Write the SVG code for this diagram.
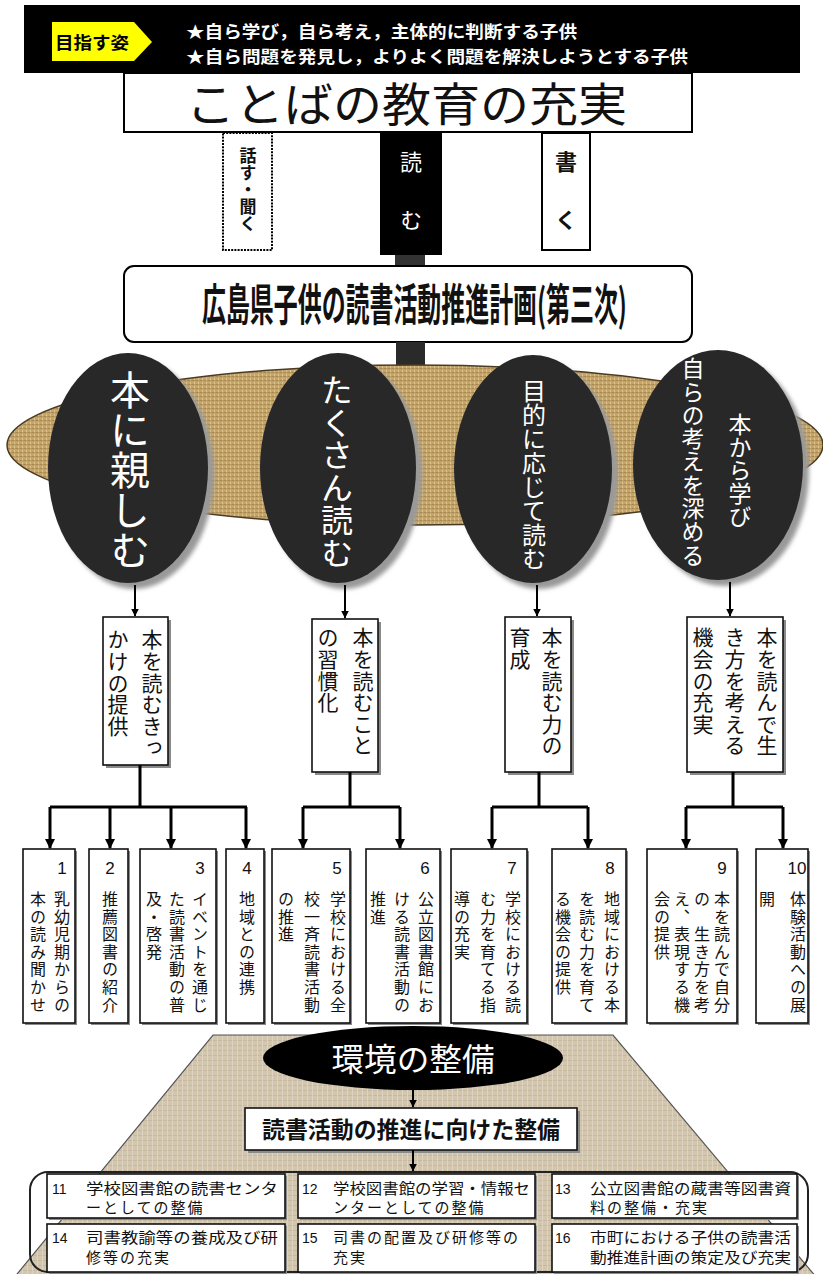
<svg xmlns="http://www.w3.org/2000/svg" width="823" height="1274" viewBox="0 0 823 1274">
<defs>
<style>
text{font-family:"Noto Sans CJK JP","Noto Sans",sans-serif;}
.v{writing-mode:vertical-rl;}
.num{font-family:"Liberation Sans",Arial,sans-serif;font-size:17px;text-anchor:middle;fill:#111;}
.bnum{font-family:"Liberation Sans",Arial,sans-serif;font-size:14px;fill:#111;}
.box{fill:#fff;stroke:#111;stroke-width:1.6;}
.shd{fill:#8a8a8a;}
.tree{stroke:#000;stroke-width:3;fill:none;}
.thin{stroke:#000;stroke-width:2;fill:none;}
.ct{font-size:16px;letter-spacing:1.6px;fill:#111;}
.mt{font-size:21px;letter-spacing:0.6px;fill:#111;}
.bt{font-size:15px;fill:#111;}
.el{fill:#282828;}
.elt{fill:#fff;}
</style>
<pattern id="burlap" width="4" height="4" patternUnits="userSpaceOnUse">
<rect width="4" height="4" fill="#c5a46a"/>
<rect width="2" height="1" fill="#a6874f"/>
<rect x="2" y="2" width="1" height="2" fill="#ddc48e"/>
<rect x="3" y="0" width="1" height="1" fill="#b39358"/>
</pattern>
<pattern id="linen" width="5" height="5" patternUnits="userSpaceOnUse">
<rect width="5" height="5" fill="#d2c6af"/>
<rect width="5" height="1" fill="#c6b99f"/>
<rect x="2" width="1" height="5" fill="#ddd3c0"/>
</pattern>
<filter id="blur" x="-20%" y="-20%" width="140%" height="140%"><feGaussianBlur stdDeviation="2"/></filter>
<marker id="ah" markerWidth="10" markerHeight="10" refX="9" refY="5" orient="auto" markerUnits="userSpaceOnUse">
<path d="M0,0 L10,5 L0,10 Z" fill="#000"/>
</marker>
<marker id="ahs" markerWidth="8" markerHeight="8" refX="7.5" refY="4" orient="auto" markerUnits="userSpaceOnUse">
<path d="M0,0 L8,4 L0,8 Z" fill="#000"/>
</marker>
</defs>

<g id="banner">
<rect x="24" y="5" width="776" height="68" fill="#000"/>
<polygon points="52,22 134,22 152,42 134,61 52,61" fill="#ffff00"/>
<text x="55" y="49" font-size="17" font-weight="bold" fill="#000" textLength="74" lengthAdjust="spacingAndGlyphs">目指す姿</text>
<text x="186" y="38" font-size="16.5" font-weight="bold" fill="#fff" textLength="391" lengthAdjust="spacingAndGlyphs">★自ら学び，自ら考え，主体的に判断する子供</text>
<text x="186" y="63" font-size="16.5" font-weight="bold" fill="#fff" textLength="502" lengthAdjust="spacingAndGlyphs">★自ら問題を発見し，よりよく問題を解決しようとする子供</text>
</g>

<g id="kotoba">
<rect x="124" y="73" width="568" height="59" fill="#fff" stroke="#000" stroke-width="2"/>
<text x="186" y="121" font-size="46" fill="#111" textLength="441" lengthAdjust="spacingAndGlyphs">ことばの教育の充実</text>
</g>

<g id="hanasu">
<rect x="223" y="133" width="49" height="117" fill="#fff" stroke="#000" stroke-width="2" stroke-dasharray="2 1.2"/>
<text class="v" x="248" y="147" font-size="17" font-weight="bold" fill="#111">話す・聞く</text>
</g>
<g id="yomu">
<rect x="380" y="133" width="62" height="122" fill="#000"/>
<rect x="395" y="255" width="30" height="11" fill="#333"/>
<text class="v" x="411" y="151" font-size="22" fill="#fff" letter-spacing="36">読む</text>
</g>
<g id="kaku">
<rect x="542" y="133" width="48" height="117" fill="#fff" stroke="#000" stroke-width="2"/>
<text class="v" x="566" y="151" font-size="22" font-weight="bold" fill="#111" letter-spacing="36">書く</text>
</g>

<g id="plan">
<rect x="124" y="266" width="568" height="76" rx="10" fill="#fff" stroke="#000" stroke-width="2"/>
<g transform="translate(202,321) scale(0.582,1)">
<text x="0" y="0" font-size="44" font-weight="bold" fill="#111" textLength="730" lengthAdjust="spacingAndGlyphs">広島県子供の読書活動推進計画(第三次)</text>
</g>
</g>

<g id="base">
<rect x="396" y="342" width="29" height="45" fill="#2a2a2a"/>
<ellipse cx="415" cy="445" rx="408" ry="80" fill="url(#burlap)" stroke="#4a3b22" stroke-width="1.5"/>
</g>

<g id="e1">
<ellipse cx="134" cy="474" rx="80" ry="115" fill="#999" filter="url(#blur)"/>
<ellipse class="el" cx="128" cy="468" rx="80" ry="115"/>
<text class="v elt" x="130" y="370" font-size="40">本に親しむ</text>
</g>
<g id="e2">
<ellipse cx="344" cy="474" rx="78" ry="115" fill="#999" filter="url(#blur)"/>
<ellipse class="el" cx="338" cy="468" rx="78" ry="115"/>
<text class="v elt" x="337" y="374" font-size="32" letter-spacing="0.5">たくさん読む</text>
</g>
<g id="e3">
<ellipse cx="539" cy="475" rx="79" ry="114" fill="#999" filter="url(#blur)"/>
<ellipse class="el" cx="533" cy="469" rx="79" ry="114"/>
<text class="v elt" x="534" y="379" font-size="24">目的に応じて読む</text>
</g>
<g id="e4">
<ellipse cx="724" cy="471" rx="85" ry="115" fill="#999" filter="url(#blur)"/>
<ellipse class="el" cx="718" cy="465" rx="85" ry="115"/>
<text class="v elt" x="740" y="413" font-size="23">本から学び</text>
<text class="v elt" x="693" y="357" font-size="23" letter-spacing="0.3">自らの考えを深める</text>
</g>

<g id="bA">
<rect class="shd" x="106" y="620" width="65" height="148"/>
<rect class="box" x="103" y="617" width="65" height="148"/>
<text class="v mt" x="152" y="629">本を読むきっ</text>
<text class="v mt" x="118" y="629">かけの提供</text>
</g>
<g id="bB">
<rect class="shd" x="315" y="622" width="66" height="153"/>
<rect class="box" x="312" y="619" width="66" height="153"/>
<text class="v mt" x="363" y="627">本を読むこと</text>
<text class="v mt" x="328" y="627">の習慣化</text>
</g>
<g id="bC">
<rect class="shd" x="508" y="620" width="66" height="155"/>
<rect class="box" x="505" y="617" width="66" height="155"/>
<text class="v mt" x="552" y="627">本を読む力の</text>
<text class="v mt" x="520" y="627">育成</text>
</g>
<g id="bD">
<rect class="shd" x="690" y="620" width="96" height="155"/>
<rect class="box" x="687" y="617" width="96" height="155"/>
<text class="v mt" x="767" y="627">本を読んで生</text>
<text class="v mt" x="735" y="627">き方を考える</text>
<text class="v mt" x="703" y="627">機会の充実</text>
</g>

<g id="b1">
<rect class="shd" x="25" y="851" width="52" height="174"/>
<rect class="box" x="23" y="849" width="52" height="174"/>
<text class="num" x="62" y="874">1</text>
<text class="v ct" x="62" y="891">乳幼児期からの</text>
<text class="v ct" x="38" y="891">本の読み聞かせ</text>
</g>
<g id="b2">
<rect class="shd" x="91" y="851" width="39" height="174"/>
<rect class="box" x="89" y="849" width="39" height="174"/>
<text class="num" x="110" y="874">2</text>
<text class="v ct" x="110" y="891">推薦図書の紹介</text>
</g>
<g id="b3">
<rect class="shd" x="142" y="851" width="76" height="174"/>
<rect class="box" x="140" y="849" width="76" height="174"/>
<text class="num" x="200" y="874">3</text>
<text class="v ct" x="200" y="891">イベントを通じ</text>
<text class="v ct" x="177" y="891">た読書活動の普</text>
<text class="v ct" x="154" y="891">及・啓発</text>
</g>
<g id="b4">
<rect class="shd" x="228" y="851" width="38" height="174"/>
<rect class="box" x="226" y="849" width="38" height="174"/>
<text class="num" x="247" y="874">4</text>
<text class="v ct" x="247" y="891">地域との連携</text>
</g>
<g id="b5">
<rect class="shd" x="274" y="851" width="78" height="174"/>
<rect class="box" x="272" y="849" width="78" height="174"/>
<text class="num" x="337" y="874">5</text>
<text class="v ct" x="338" y="891">学校における全</text>
<text class="v ct" x="312" y="891">校一斉読書活動</text>
<text class="v ct" x="286" y="891">の推進</text>
</g>
<g id="b6">
<rect class="shd" x="368" y="851" width="74" height="174"/>
<rect class="box" x="366" y="849" width="74" height="174"/>
<text class="num" x="425" y="874">6</text>
<text class="v ct" x="426" y="891">公立図書館にお</text>
<text class="v ct" x="402" y="891">ける読書活動の</text>
<text class="v ct" x="378" y="891">推進</text>
</g>
<g id="b7">
<rect class="shd" x="453" y="851" width="76" height="174"/>
<rect class="box" x="451" y="849" width="76" height="174"/>
<text class="num" x="512" y="874">7</text>
<text class="v ct" x="513" y="891">学校における読</text>
<text class="v ct" x="488" y="891">む力を育てる指</text>
<text class="v ct" x="462" y="891">導の充実</text>
</g>
<g id="b8">
<rect class="shd" x="554" y="851" width="74" height="174"/>
<rect class="box" x="552" y="849" width="74" height="174"/>
<text class="num" x="610" y="874">8</text>
<text class="v ct" x="612" y="891">地域における本</text>
<text class="v ct" x="587" y="891">を読む力を育て</text>
<text class="v ct" x="563" y="891">る機会の提供</text>
</g>
<g id="b9">
<rect class="shd" x="649" y="851" width="90" height="174"/>
<rect class="box" x="647" y="849" width="90" height="174"/>
<text class="num" x="722" y="874">9</text>
<text class="v ct" x="722" y="891">本を読んで自分</text>
<text class="v ct" x="702" y="891">の　生き方を考</text>
<text class="v ct" x="682" y="891">え、表現する機</text>
<text class="v ct" x="662" y="891">会の提供</text>
</g>
<g id="b10">
<rect class="shd" x="758" y="851" width="52" height="174"/>
<rect class="box" x="756" y="849" width="52" height="174"/>
<text class="num" x="797" y="874">10</text>
<text class="v ct" x="798" y="891">体験活動への展</text>
<text class="v ct" x="767" y="891">開</text>
</g>

<g id="env-bg">
<polygon points="213,1035 613,1035 827,1290 4,1290" fill="url(#linen)" stroke="#555" stroke-width="1.2"/>
</g>
<g id="env">
<ellipse cx="413" cy="1058" rx="150" ry="32" fill="#000"/>
<text x="413" y="1071" font-size="32" fill="#fff" text-anchor="middle" textLength="163" lengthAdjust="spacingAndGlyphs">環境の整備</text>
</g>
<g id="seibi">
<rect class="shd" x="248" y="1111" width="332" height="42"/>
<rect class="box" x="245" y="1108" width="332" height="42"/>
<text x="262" y="1138" font-size="23" font-weight="bold" fill="#111" textLength="298" lengthAdjust="spacingAndGlyphs">読書活動の推進に向けた整備</text>
</g>
<g id="frame">
<rect x="30" y="1172" width="778" height="100" rx="18" fill="none" stroke="#222" stroke-width="2"/>
</g>
<g id="b11">
<rect class="shd" x="49" y="1176" width="238" height="44"/>
<rect class="box" x="47" y="1174" width="238" height="44"/>
<text class="bnum" x="52" y="1194">11</text>
<text class="bt" x="86" y="1194" textLength="192" lengthAdjust="spacingAndGlyphs">学校図書館の読書センタ</text>
<text class="bt" x="86" y="1213" letter-spacing="2">ーとしての整備</text>
</g>
<g id="b12">
<rect class="shd" x="300" y="1176" width="237" height="44"/>
<rect class="box" x="298" y="1174" width="237" height="44"/>
<text class="bnum" x="302" y="1194">12</text>
<text class="bt" x="333" y="1194" textLength="197" lengthAdjust="spacingAndGlyphs">学校図書館の学習・情報セ</text>
<text class="bt" x="333" y="1213" letter-spacing="2">ンターとしての整備</text>
</g>
<g id="b13">
<rect class="shd" x="554" y="1176" width="245" height="44"/>
<rect class="box" x="552" y="1174" width="245" height="44"/>
<text class="bnum" x="555" y="1194">13</text>
<text class="bt" x="590" y="1194" textLength="201" lengthAdjust="spacingAndGlyphs">公立図書館の蔵書等図書資</text>
<text class="bt" x="590" y="1213" letter-spacing="2">料の整備・充実</text>
</g>
<g id="b14">
<rect class="shd" x="49" y="1226" width="238" height="48"/>
<rect class="box" x="47" y="1224" width="238" height="48"/>
<text class="bnum" x="52" y="1243">14</text>
<text class="bt" x="86" y="1243" textLength="192" lengthAdjust="spacingAndGlyphs">司書教諭等の養成及び研</text>
<text class="bt" x="86" y="1263" letter-spacing="2">修等の充実</text>
</g>
<g id="b15">
<rect class="shd" x="300" y="1226" width="237" height="48"/>
<rect class="box" x="298" y="1224" width="237" height="48"/>
<text class="bnum" x="302" y="1243">15</text>
<text class="bt" x="333" y="1243" letter-spacing="2">司書の配置及び研修等の</text>
<text class="bt" x="333" y="1263" letter-spacing="2">充実</text>
</g>
<g id="b16">
<rect class="shd" x="554" y="1226" width="245" height="48"/>
<rect class="box" x="552" y="1224" width="245" height="48"/>
<text class="bnum" x="555" y="1243">16</text>
<text class="bt" x="590" y="1243" textLength="201" lengthAdjust="spacingAndGlyphs">市町における子供の読書活</text>
<text class="bt" x="590" y="1263" textLength="201" lengthAdjust="spacingAndGlyphs">動推進計画の策定及び充実</text>
</g>

<g id="connectors">
<line class="thin" x1="135" y1="585" x2="135" y2="616" marker-end="url(#ahs)"/>
<line class="thin" x1="345" y1="585" x2="345" y2="618" marker-end="url(#ahs)"/>
<line class="thin" x1="537" y1="585" x2="537" y2="616" marker-end="url(#ahs)"/>
<line class="thin" x1="730" y1="582" x2="730" y2="616" marker-end="url(#ahs)"/>
<path class="tree" d="M140,765 V807 M50,807 H247"/>
<path class="tree" d="M350,772 V807 M303,807 H400"/>
<path class="tree" d="M539,772 V807 M492,807 H588"/>
<path class="tree" d="M733,772 V807 M686,807 H783"/>
<line class="tree" x1="50" y1="807" x2="50" y2="848" marker-end="url(#ah)"/>
<line class="tree" x1="110" y1="807" x2="110" y2="848" marker-end="url(#ah)"/>
<line class="tree" x1="171" y1="807" x2="171" y2="848" marker-end="url(#ah)"/>
<line class="tree" x1="246" y1="807" x2="246" y2="848" marker-end="url(#ah)"/>
<line class="tree" x1="303" y1="807" x2="303" y2="848" marker-end="url(#ah)"/>
<line class="tree" x1="400" y1="807" x2="400" y2="848" marker-end="url(#ah)"/>
<line class="tree" x1="492" y1="807" x2="492" y2="848" marker-end="url(#ah)"/>
<line class="tree" x1="588" y1="807" x2="588" y2="848" marker-end="url(#ah)"/>
<line class="tree" x1="686" y1="807" x2="686" y2="848" marker-end="url(#ah)"/>
<line class="tree" x1="783" y1="807" x2="783" y2="848" marker-end="url(#ah)"/>
<line class="thin" x1="413" y1="1090" x2="413" y2="1107" marker-end="url(#ahs)"/>
<line class="thin" x1="413" y1="1150" x2="413" y2="1171" marker-end="url(#ahs)"/>
</g>
</svg>
